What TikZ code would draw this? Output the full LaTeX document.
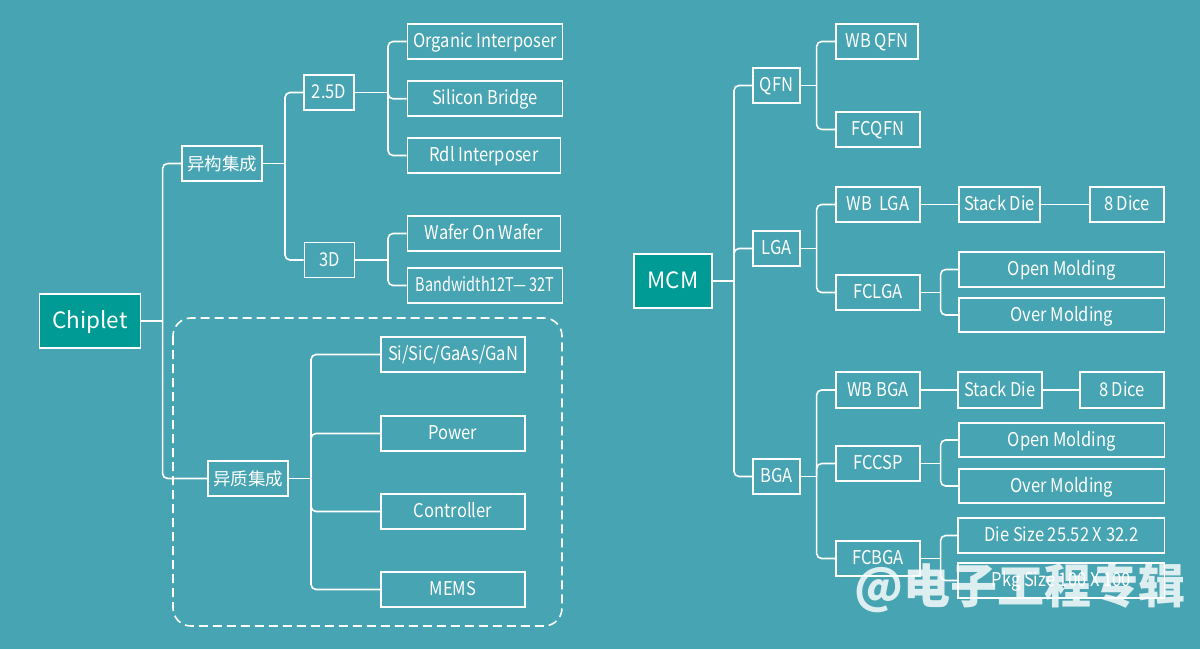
\documentclass[tikz,border=0pt]{standalone}
\usepackage{fontspec}
\setmainfont{Noto Sans CJK SC}
\newfontfamily\latf{Noto Sans CJK SC}[FakeStretch=0.87]
\newfontfamily\latnarrow{Noto Sans CJK SC}[FakeStretch=0.76]
\definecolor{bgc}{RGB}{71,164,178}
\definecolor{rootc}{RGB}{0,155,148}
\begin{document}
\begin{tikzpicture}[x=1pt,y=-1pt,
  box/.style={draw=white, line width=1.6pt, minimum height=35pt, inner sep=0pt,
    text=white, font=\latf\fontsize{19}{19}\selectfont, text height=12.5pt, text depth=0.5pt},
  cjkbox/.style={box, font=\fontsize{17.5}{17.5}\selectfont, text height=14pt, text depth=1pt},
  rootbox/.style={box, fill=rootc, minimum height=54pt, font=\fontsize{22.5}{22.5}\selectfont, text height=15pt, text depth=0.5pt},
  conn/.style={draw=white, line width=1.6pt, rounded corners=5pt},
  groupbox/.style={draw=white, line width=1.6pt, dash pattern=on 9pt off 5pt, rounded corners=18pt}]
\fill[bgc] (0,0) rectangle (1200,649);
\useasboundingbox (0,0) rectangle (1200,649);

% ---------- left tree ----------
\draw[groupbox] (173,318) rectangle (562,626);
\node[rootbox, minimum width=101pt] (chiplet) at (90,321) {Chiplet};
\node[cjkbox, minimum width=80pt] (yigou) at (222,163.5) {异构集成};
\node[box, minimum width=50pt] (d25) at (329,92.5) {2.5D};
\node[box, minimum width=50pt] (d3) at (329.5,260) {3D};
\node[box, minimum width=155pt] (organic) at (485,41.5) {Organic Interposer};
\node[box, minimum width=155pt] (silicon) at (485,98.75) {Silicon Bridge};
\node[box, minimum width=153pt] (rdl) at (484,155.5) {Rdl Interposer};
\node[box, minimum width=153pt] (wafer) at (484,233.5) {Wafer On Wafer};
\node[box, minimum width=155pt, font=\latnarrow\fontsize{19}{19}\selectfont] (bandw) at (485,285.5) {Bandwidth12T—\,32T};
\node[cjkbox, minimum width=80pt] (yizhi) at (248,478.5) {异质集成};
\node[box, minimum width=144pt] (si) at (453,354.5) {Si/SiC/GaAs/GaN};
\node[box, minimum width=144pt] (power) at (453,433.5) {Power};
\node[box, minimum width=144pt] (ctrl) at (453,511.5) {Controller};
\node[box, minimum width=144pt] (mems) at (453,589.5) {MEMS};

\coordinate (cb) at (162.6,321);
\draw[conn] (chiplet.east) -- (cb);
\draw[conn] (cb) |- (yigou.west);
\draw[conn] (cb) |- (yizhi.west);
\coordinate (yb) at (285,163.5);
\draw[conn] (yigou.east) -- (yb);
\draw[conn] (yb) |- (d25.west);
\draw[conn] (yb) |- (d3.west);
\coordinate (db) at (388,92.5);
\draw[conn] (d25.east) -- (db);
\draw[conn] (db) |- (organic.west);
\draw[conn] (db) |- (silicon.west);
\draw[conn] (db) |- (rdl.west);
\coordinate (tb) at (388,260);
\draw[conn] (d3.east) -- (tb);
\draw[conn] (tb) |- (wafer.west);
\draw[conn] (tb) |- (bandw.west);
\coordinate (zb) at (311,478.5);
\draw[conn] (yizhi.east) -- (zb);
\draw[conn] (zb) |- (si.west);
\draw[conn] (zb) |- (power.west);
\draw[conn] (zb) |- (ctrl.west);
\draw[conn] (zb) |- (mems.west);

% ---------- right tree ----------
\node[rootbox, minimum width=78pt] (mcm) at (673,281) {MCM};
\node[box, minimum width=47pt] (qfn) at (776.5,85.5) {QFN};
\node[box, minimum width=47pt] (lga) at (776.5,248.5) {LGA};
\node[box, minimum width=47pt] (bga) at (776.5,476.5) {BGA};
\node[box, minimum width=82pt] (wbqfn) at (877,41.5) {WB QFN};
\node[box, minimum width=84pt] (fcqfn) at (878,129.5) {FCQFN};
\node[box, minimum width=84pt] (wblga) at (878,204.5) {WB\ \ LGA};
\node[box, minimum width=81pt] (stacka) at (999.5,204.5) {Stack Die};
\node[box, minimum width=74.5pt] (dicea) at (1127,204.5) {8 Dice};
\node[box, minimum width=84pt] (fclga) at (878,292.5) {FCLGA\hspace{10pt}};
\node[box, minimum width=205.5pt] (opena) at (1061.75,269.5) {Open Molding};
\node[box, minimum width=205.5pt, minimum height=34pt] (overa) at (1061.75,315) {Over Molding};
\node[box, minimum width=84pt, minimum height=36pt] (wbbga) at (878,390) {WB BGA};
\node[box, minimum width=84pt, minimum height=36pt] (stackb) at (1000,390) {Stack Die};
\node[box, minimum width=84.5pt, minimum height=36pt] (diceb) at (1122,390) {8 Dice};
\node[box, minimum width=84pt] (fccsp) at (878,463.5) {FCCSP\hspace{10pt}};
\node[box, minimum width=205.5pt, minimum height=34pt] (openb) at (1061.75,440) {Open Molding};
\node[box, minimum width=205.5pt, minimum height=34pt] (overb) at (1061.75,486) {Over Molding};
\node[box, minimum width=84pt] (fcbga) at (878,558.5) {FCBGA\hspace{10pt}};
\node[box, minimum width=206.5pt] (diesz) at (1061.25,535.5) {Die Size 25.52 X 32.2};
\node[box, minimum width=206.5pt] (pkgsz) at (1061.25,580.5) {Pkg Size 100 X 100};

\coordinate (mb) at (734,281);
\draw[conn] (mcm.east) -- (mb);
\draw[conn] (mb) |- (qfn.west);
\draw[conn] (mb) |- (lga.west);
\draw[conn] (mb) |- (bga.west);
\coordinate (qb) at (816.6,85.5);
\draw[conn] (qfn.east) -- (qb);
\draw[conn] (qb) |- (wbqfn.west);
\draw[conn] (qb) |- (fcqfn.west);
\coordinate (lb) at (816.6,248.5);
\draw[conn] (lga.east) -- (lb);
\draw[conn] (lb) |- (wblga.west);
\draw[conn] (lb) |- (fclga.west);
\draw[conn] (wblga) -- (stacka);
\draw[conn] (stacka) -- (dicea);
\coordinate (fb) at (940.6,292.5);
\draw[conn] (fclga.east) -- (fb);
\draw[conn] (fb) |- (opena.west);
\draw[conn] (fb) |- (overa.west);
\coordinate (bb) at (816.6,476.5);
\draw[conn] (bga.east) -- (bb);
\draw[conn] (bb) |- (wbbga.west);
\draw[conn] (bb) |- (fccsp.west);
\draw[conn] (bb) |- (fcbga.west);
\draw[conn] (wbbga) -- (stackb);
\draw[conn] (stackb) -- (diceb);
\coordinate (cspb) at (940.6,463.5);
\draw[conn] (fccsp.east) -- (cspb);
\draw[conn] (cspb) |- (openb.west);
\draw[conn] (cspb) |- (overb.west);
\coordinate (fbb) at (940.6,558.5);
\draw[conn] (fcbga.east) -- (fbb);
\draw[conn] (fbb) |- (diesz.west);
\draw[conn] (fbb) |- (pkgsz.west);

% watermark
\node[text=white, text opacity=0.82, font=\fontsize{47}{47}\selectfont\bfseries, inner sep=0pt] (wm) at (1020,588) {@电子工程专辑};
\end{tikzpicture}
\end{document}
